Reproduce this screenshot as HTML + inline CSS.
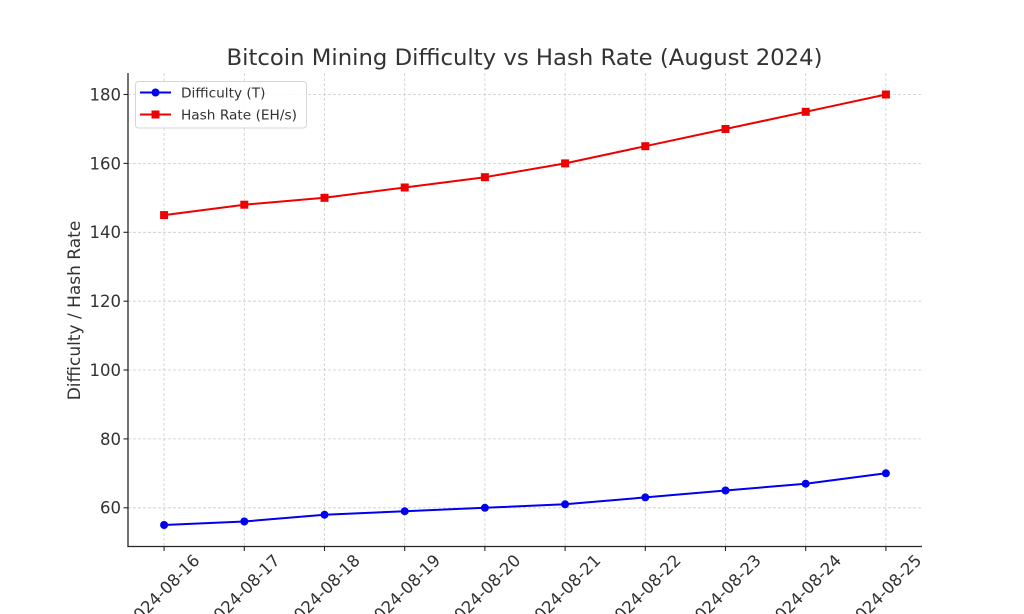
<!DOCTYPE html>
<html>
<head>
<meta charset="utf-8">
<style>
  html, body { margin:0; padding:0; background:#ffffff; }
  svg { display:block; }
  text { font-family: "DejaVu Sans", "Liberation Sans", sans-serif; fill:#333333; }
</style>
</head>
<body>
<svg width="1024" height="614" viewBox="0 0 1024 614" xmlns="http://www.w3.org/2000/svg">
  <rect x="0" y="0" width="1024" height="614" fill="#ffffff"/>

  <!-- grid -->
  <g stroke="#cccccc" stroke-width="0.8" stroke-dasharray="3,2" fill="none">
    <line x1="164.1" y1="73" x2="164.1" y2="546.5"/>
    <line x1="244.3" y1="73" x2="244.3" y2="546.5"/>
    <line x1="324.5" y1="73" x2="324.5" y2="546.5"/>
    <line x1="404.7" y1="73" x2="404.7" y2="546.5"/>
    <line x1="484.9" y1="73" x2="484.9" y2="546.5"/>
    <line x1="565.1" y1="73" x2="565.1" y2="546.5"/>
    <line x1="645.3" y1="73" x2="645.3" y2="546.5"/>
    <line x1="725.5" y1="73" x2="725.5" y2="546.5"/>
    <line x1="805.7" y1="73" x2="805.7" y2="546.5"/>
    <line x1="885.9" y1="73" x2="885.9" y2="546.5"/>
    <line x1="128" y1="507.8" x2="922" y2="507.8"/>
    <line x1="128" y1="438.9" x2="922" y2="438.9"/>
    <line x1="128" y1="370.0" x2="922" y2="370.0"/>
    <line x1="128" y1="301.2" x2="922" y2="301.2"/>
    <line x1="128" y1="232.3" x2="922" y2="232.3"/>
    <line x1="128" y1="163.4" x2="922" y2="163.4"/>
    <line x1="128" y1="94.5" x2="922" y2="94.5"/>
  </g>

  <!-- spines -->
  <g stroke="#262626" stroke-width="1.3" fill="none">
    <line x1="128" y1="73" x2="128" y2="547"/>
    <line x1="127.4" y1="546.5" x2="922" y2="546.5"/>
  </g>

  <!-- y ticks -->
  <g stroke="#262626" stroke-width="1.1">
    <line x1="123.5" y1="507.8" x2="128" y2="507.8"/>
    <line x1="123.5" y1="438.9" x2="128" y2="438.9"/>
    <line x1="123.5" y1="370.0" x2="128" y2="370.0"/>
    <line x1="123.5" y1="301.2" x2="128" y2="301.2"/>
    <line x1="123.5" y1="232.3" x2="128" y2="232.3"/>
    <line x1="123.5" y1="163.4" x2="128" y2="163.4"/>
    <line x1="123.5" y1="94.5" x2="128" y2="94.5"/>
  </g>
  <g font-size="16.5" text-anchor="end">
    <text x="121" y="513.7">60</text>
    <text x="121" y="444.8">80</text>
    <text x="121" y="375.9">100</text>
    <text x="121" y="307.1">120</text>
    <text x="121" y="238.2">140</text>
    <text x="121" y="169.3">160</text>
    <text x="121" y="100.4">180</text>
  </g>

  <!-- x ticks -->
  <g stroke="#262626" stroke-width="1.1">
    <line x1="164.1" y1="546.5" x2="164.1" y2="551"/>
    <line x1="244.3" y1="546.5" x2="244.3" y2="551"/>
    <line x1="324.5" y1="546.5" x2="324.5" y2="551"/>
    <line x1="404.7" y1="546.5" x2="404.7" y2="551"/>
    <line x1="484.9" y1="546.5" x2="484.9" y2="551"/>
    <line x1="565.1" y1="546.5" x2="565.1" y2="551"/>
    <line x1="645.3" y1="546.5" x2="645.3" y2="551"/>
    <line x1="725.5" y1="546.5" x2="725.5" y2="551"/>
    <line x1="805.7" y1="546.5" x2="805.7" y2="551"/>
    <line x1="885.9" y1="546.5" x2="885.9" y2="551"/>
  </g>
  <g font-size="16.5" text-anchor="end">
    <text transform="translate(200.7,561.4) rotate(-45)">2024-08-16</text>
    <text transform="translate(280.9,561.4) rotate(-45)">2024-08-17</text>
    <text transform="translate(361.1,561.4) rotate(-45)">2024-08-18</text>
    <text transform="translate(441.3,561.4) rotate(-45)">2024-08-19</text>
    <text transform="translate(521.5,561.4) rotate(-45)">2024-08-20</text>
    <text transform="translate(601.7,561.4) rotate(-45)">2024-08-21</text>
    <text transform="translate(681.9,561.4) rotate(-45)">2024-08-22</text>
    <text transform="translate(762.1,561.4) rotate(-45)">2024-08-23</text>
    <text transform="translate(842.3,561.4) rotate(-45)">2024-08-24</text>
    <text transform="translate(922.5,561.4) rotate(-45)">2024-08-25</text>
  </g>

  <!-- y label -->
  <text font-size="17" text-anchor="middle" transform="translate(80,310.5) rotate(-90)">Difficulty / Hash Rate</text>

  <!-- title -->
  <text x="524.5" y="65" font-size="22" text-anchor="middle" textLength="596" lengthAdjust="spacingAndGlyphs">Bitcoin Mining Difficulty vs Hash Rate (August 2024)</text>

  <!-- Difficulty series -->
  <polyline fill="none" stroke="#0000ee" stroke-width="2" stroke-linejoin="round"
    points="164.1,525.0 244.3,521.5 324.5,514.7 404.7,511.2 484.9,507.8 565.1,504.3 645.3,497.4 725.5,490.5 805.7,483.7 885.9,473.3"/>
  <g fill="#0000ee">
    <circle cx="164.1" cy="525.0" r="4"/>
    <circle cx="244.3" cy="521.5" r="4"/>
    <circle cx="324.5" cy="514.7" r="4"/>
    <circle cx="404.7" cy="511.2" r="4"/>
    <circle cx="484.9" cy="507.8" r="4"/>
    <circle cx="565.1" cy="504.3" r="4"/>
    <circle cx="645.3" cy="497.4" r="4"/>
    <circle cx="725.5" cy="490.5" r="4"/>
    <circle cx="805.7" cy="483.7" r="4"/>
    <circle cx="885.9" cy="473.3" r="4"/>
  </g>

  <!-- Hash Rate series -->
  <polyline fill="none" stroke="#ee0000" stroke-width="2" stroke-linejoin="round"
    points="164.1,215.1 244.3,204.7 324.5,197.8 404.7,187.5 484.9,177.2 565.1,163.4 645.3,146.2 725.5,129.0 805.7,111.8 885.9,94.5"/>
  <g fill="#ee0000">
    <rect x="160.1" y="211.1" width="8" height="8"/>
    <rect x="240.3" y="200.7" width="8" height="8"/>
    <rect x="320.5" y="193.8" width="8" height="8"/>
    <rect x="400.7" y="183.5" width="8" height="8"/>
    <rect x="480.9" y="173.2" width="8" height="8"/>
    <rect x="561.1" y="159.4" width="8" height="8"/>
    <rect x="641.3" y="142.2" width="8" height="8"/>
    <rect x="721.5" y="125.0" width="8" height="8"/>
    <rect x="801.7" y="107.8" width="8" height="8"/>
    <rect x="881.9" y="90.5" width="8" height="8"/>
  </g>

  <!-- legend -->
  <rect x="135.5" y="81.5" width="171" height="46.5" rx="3" ry="3" fill="#ffffff" fill-opacity="0.85" stroke="#d6d6d6" stroke-width="1"/>
  <line x1="140" y1="92.5" x2="171" y2="92.5" stroke="#0000ee" stroke-width="2"/>
  <circle cx="155.5" cy="92.5" r="4" fill="#0000ee"/>
  <line x1="140" y1="114.5" x2="171" y2="114.5" stroke="#ee0000" stroke-width="2"/>
  <rect x="151.5" y="110.5" width="8" height="8" fill="#ee0000"/>
  <g font-size="13.7">
    <text x="181" y="97.5">Difficulty (T)</text>
    <text x="181" y="119.5">Hash Rate (EH/s)</text>
  </g>
</svg>
</body>
</html>
